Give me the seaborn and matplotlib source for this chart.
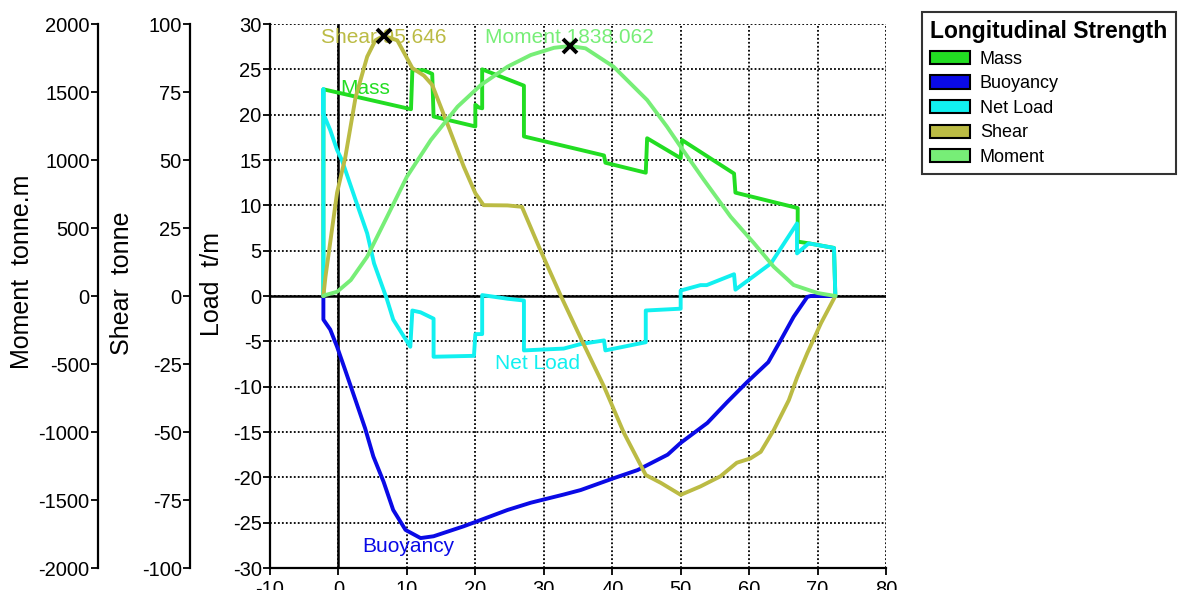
import matplotlib
matplotlib.use("Agg")
import matplotlib.pyplot as plt
import seaborn as sns
import numpy as np
from matplotlib.patches import Patch

# ---- longitudinal strength data (x in m) ----
mass_x = [-2.2, -2.2, 10.6, 10.8, 12.5, 13.7, 13.9, 20.0, 20.0, 20.5, 21.0, 21.0,
          27.1, 27.1, 38.8, 39.0, 44.9, 45.1, 48.0, 50.0, 50.2, 57.8, 58.0,
          67.1, 67.1, 68.8, 72.4, 72.6]
mass_y = [0.0, 22.8, 20.6, 24.9, 24.9, 24.5, 19.8, 18.7, 21.1, 20.8, 20.7, 25.0,
          23.2, 17.6, 15.5, 14.7, 13.6, 17.4, 16.1, 15.2, 17.2, 13.5, 11.4,
          9.7, 6.0, 5.8, 5.3, 0.0]

buoy_x = [-2.2, -2.2, -1.2, -0.2, 1.0, 2.5, 3.9, 5.1, 6.6, 8.0, 9.8, 12.0, 13.9,
          18.3, 20.8, 24.7, 28.1, 32.9, 35.4, 40.2, 43.7, 48.1, 50.0, 53.9,
          56.8, 59.7, 62.8, 64.6, 66.5, 68.5, 69.0, 72.6]
buoy_y = [0.0, -2.6, -3.7, -5.6, -8.2, -11.5, -14.6, -17.7, -20.5, -23.6, -25.8,
          -26.7, -26.5, -25.4, -24.7, -23.6, -22.8, -21.9, -21.4, -20.1, -19.2,
          -17.5, -16.2, -14.0, -11.7, -9.5, -7.3, -4.9, -2.3, -0.1, 0.0, 0.0]

net_x = [-2.2, -2.2, -2.2, -1.2, -0.2, 0.5, 2.5, 4.2, 5.2, 7.1, 8.0, 10.5, 10.8,
         12.0, 13.9, 13.9, 19.8, 20.0, 21.0, 21.0, 24.7, 27.1, 27.1, 32.9, 35.4,
         38.8, 39.0, 44.9, 44.9, 50.0, 50.0, 52.9, 53.8, 57.8, 58.0, 63.2,
         67.0, 67.0, 68.7, 72.4, 72.6]
net_y = [0.0, 22.8, 20.1, 18.3, 16.1, 15.0, 10.6, 6.9, 3.6, -0.4, -2.6, -5.6, -1.6,
         -1.8, -2.5, -6.7, -6.6, -4.2, -4.2, 0.1, -0.3, -0.5, -6.0, -5.8, -5.3,
         -4.9, -6.0, -5.1, -1.6, -1.4, 0.6, 1.2, 1.2, 2.4, 0.7, 3.6,
         8.0, 4.7, 5.8, 5.3, 0.0]

shear_x = [-2.2, -1.9, -0.2, 1.0, 2.5, 4.2, 5.4, 6.6, 8.6, 10.8, 12.5, 13.7, 15.9,
           18.3, 20.0, 21.2, 24.7, 26.8, 29.5, 32.5, 35.4, 38.8, 41.7, 44.9,
           47.1, 50.0, 52.9, 55.8, 58.2, 60.2, 61.7, 63.6, 65.8, 67.0, 68.5,
           70.5, 72.6]
shear_y = [0.0, 7.0, 38.0, 51.0, 73.0, 88.0, 94.0, 95.646, 94.0, 83.8, 81.0, 77.6,
           63.4, 47.6, 37.8, 33.4, 33.3, 32.8, 16.9, 0.0, -15.5, -33.3, -50.3,
           -65.8, -68.7, -73.1, -70.0, -66.3, -61.3, -59.7, -57.3, -49.3, -38.3,
           -30.0, -21.0, -10.0, 0.0]

moment_x = [-2.2, -1.9, -0.2, 1.8, 4.2, 7.1, 10.0, 13.5, 17.4, 20.8, 24.7, 28.1,
            31.5, 33.8, 36.1, 40.2, 45.1, 48.0, 50.0, 53.4, 57.3, 60.7, 63.6,
            66.5, 70.0, 72.6]
moment_y = [0.0, 7.0, 31.0, 117.0, 289.0, 582.0, 877.0, 1147.0, 1392.0, 1551.0,
            1686.0, 1772.0, 1825.0, 1838.062, 1821.0, 1686.0, 1441.0, 1245.0,
            1097.0, 853.0, 583.0, 389.0, 215.0, 81.0, 22.0, 0.0]

series_names = ["Mass", "Buoyancy", "Net Load", "Shear", "Moment"]
x_ticks = list(range(-10, 81, 10))
load_ticks = list(range(-30, 31, 5))
shear_ticks = list(range(-100, 101, 25))
moment_ticks = list(range(-2000, 2001, 500))

colors = {"Mass": "#22dd22", "Buoyancy": "#0a0ae6", "Net Load": "#11f0f0",
          "Shear": "#bbbb44", "Moment": "#77ee77"}

sns.set_theme(style="ticks")
plt.rcParams["font.family"] = ["Liberation Sans", "DejaVu Sans"]
plt.rcParams["axes.unicode_minus"] = False
plt.rcParams["text.color"] = "black"

W, H = 1183, 590
fig = plt.figure(figsize=(W / 100, H / 100), dpi=100)
ax = fig.add_axes([270 / W, 1 - 568 / H, 616 / W, 544 / H])
ax_sh = ax.twinx()
ax_mo = ax.twinx()

LW = 2.8
TICK_FS = 14.5

# main load axis
ax.set_xlim(-10, 80)
ax.set_ylim(-30, 30)
ax.set_xticks(x_ticks)
ax.set_yticks(load_ticks)
ax.grid(True, color="black", linestyle=(0, (1, 1.2)), linewidth=1.3, zorder=0)
ax.set_axisbelow(True)
for s in ("top", "right"):
    ax.spines[s].set_visible(False)
for s in ("left", "bottom"):
    ax.spines[s].set_color("black")
    ax.spines[s].set_linewidth(1.6)
ax.tick_params(axis="both", direction="out", length=5, width=1.3, color="black",
               labelsize=TICK_FS, labelcolor="black", pad=1.0)
ax.tick_params(axis="x", pad=3.5)
ax.axhline(0, color="black", lw=1.8, zorder=1.5)
ax.axvline(0, color="black", lw=1.8, zorder=1.5)

sns.lineplot(x=mass_x, y=mass_y, ax=ax, sort=False, estimator=None,
             color=colors["Mass"], lw=LW)
sns.lineplot(x=buoy_x, y=buoy_y, ax=ax, sort=False, estimator=None,
             color=colors["Buoyancy"], lw=LW)
sns.lineplot(x=net_x, y=net_y, ax=ax, sort=False, estimator=None,
             color=colors["Net Load"], lw=LW)

# secondary scales on the left
for a, lim, ticks, offset in ((ax_sh, (-100, 100), shear_ticks, -80 / 616),
                              (ax_mo, (-2000, 2000), moment_ticks, -172 / 616)):
    a.set_ylim(*lim)
    a.set_yticks(ticks)
    for s in ("top", "right", "bottom"):
        a.spines[s].set_visible(False)
    a.spines["left"].set_visible(True)
    a.spines["left"].set_position(("axes", offset))
    a.spines["left"].set_color("black")
    a.spines["left"].set_linewidth(1.6)
    a.yaxis.set_ticks_position("left")
    a.yaxis.set_label_position("left")
    a.tick_params(axis="y", direction="out", length=5, width=1.3, color="black",
                  labelsize=TICK_FS, labelcolor="black", pad=1.0)
    a.grid(False)

sns.lineplot(x=shear_x, y=shear_y, ax=ax_sh, sort=False, estimator=None,
             color=colors["Shear"], lw=LW)
sns.lineplot(x=moment_x, y=moment_y, ax=ax_mo, sort=False, estimator=None,
             color=colors["Moment"], lw=LW)

# peak markers and captions
i_s = int(np.argmax(shear_y))
i_m = int(np.argmax(moment_y))
LABEL_FS = 15
ax.text(shear_x[i_s], 28.5, f"Shear {shear_y[i_s]:.3f}", color=colors["Shear"],
        fontsize=LABEL_FS, ha="center", va="center")
ax.text(moment_x[i_m], 28.5, f"Moment {moment_y[i_m]:.3f}", color=colors["Moment"],
        fontsize=LABEL_FS, ha="center", va="center")
ax_sh.plot(shear_x[i_s], shear_y[i_s], marker="x", color="black", ms=10, mew=2.8)
ax_mo.plot(moment_x[i_m], moment_y[i_m], marker="x", color="black", ms=10, mew=2.8)

ax.text(0.3, 22.9, "Mass", color=colors["Mass"], fontsize=LABEL_FS,
        ha="left", va="center")
ax.text(29.1, -7.4, "Net Load", color=colors["Net Load"], fontsize=LABEL_FS,
        ha="center", va="center")
ax.text(10.2, -27.6, "Buoyancy", color=colors["Buoyancy"], fontsize=LABEL_FS,
        ha="center", va="center")

# axis titles
fig.text(212 / W, 1 - 284 / H, "Load  t/m", rotation=90, ha="center", va="center",
         fontsize=18, color="black")
fig.text(122 / W, 1 - 283 / H, "Shear  tonne", rotation=90, ha="center",
         va="center", fontsize=18, color="black")
fig.text(22 / W, 1 - 272 / H, "Moment  tonne.m", rotation=90, ha="center",
         va="center", fontsize=18, color="black")

# legend
handles = [Patch(facecolor=colors[n], edgecolor="black", linewidth=1.5)
           for n in series_names]
leg = fig.legend(handles, series_names, loc="upper left",
                 bbox_to_anchor=(922 / W, 1 - 12 / H), fontsize=13,
                 title="Longitudinal Strength",
                 title_fontproperties={"weight": "bold", "size": 16.5},
                 frameon=True, fancybox=False, edgecolor="black",
                 handlelength=2.2, handleheight=0.75, labelspacing=0.42,
                 handletextpad=0.55, borderpad=0.45, borderaxespad=0)
leg.get_frame().set_linewidth(1.5)
leg.get_title().set_color("black")
for t in leg.get_texts():
    t.set_color("black")
leg._legend_box.align = "left"

fig.savefig("out.png", dpi=100, facecolor="white")
